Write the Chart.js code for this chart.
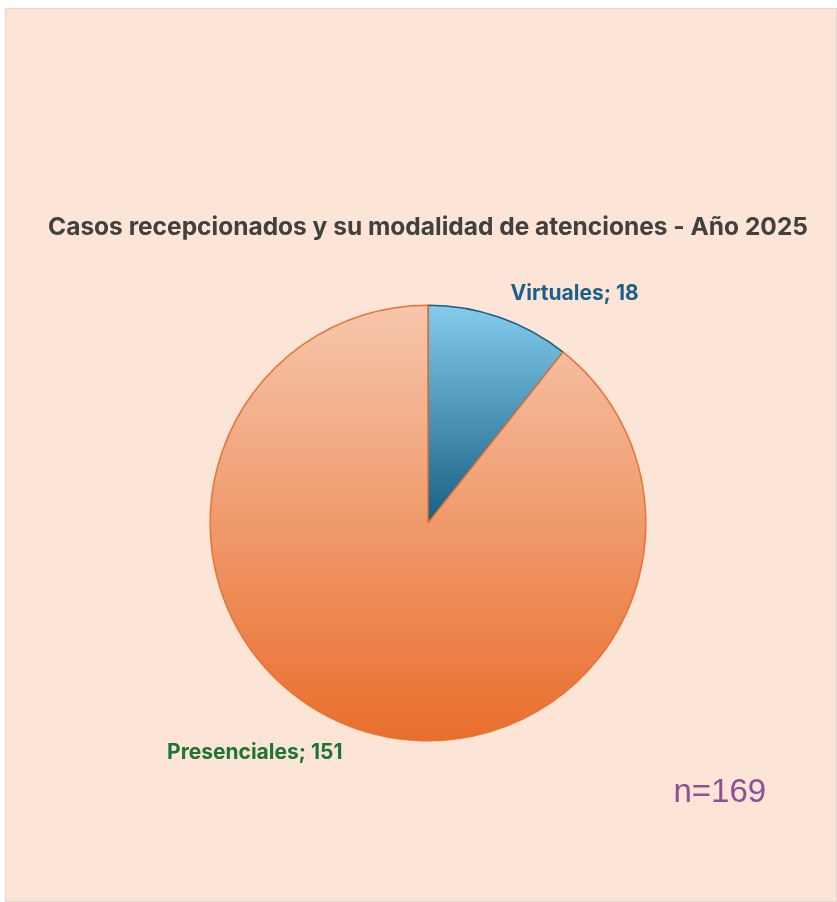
<!DOCTYPE html>
<html>
<head>
<meta charset="utf-8">
<script src="https://cdn.jsdelivr.net/npm/chart.js@4"></script>
<style>
  body { margin: 0; background: #fff; }
  #wrap {
    position: absolute; left: 5px; top: 8px;
    width: 830px; height: 892px;
    background: #FCE4D6;
    border: 1px solid #e6d6cc;
  }
</style>
</head>
<body>
<div id="wrap"><canvas id="pie-chart"></canvas></div>
<script>
// data for the pie
const categories = ["Virtuales", "Presenciales"];
const casos = [18, 151];
const total = 169;

const labelColors = ['#1B6089', '#1E7431'];
// gradient stops (top, bottom) per slice
const gradStops = [
  ['#84CBEC', '#176085'],
  ['#F6C6AC', '#E96E2C']
];
const borderColors = ['#1A5E7E', '#E97132'];

// vertical gradient spanning each slice's own height
function sliceGradient(ctx) {
  const chart = ctx.chart;
  const arc = chart.getDatasetMeta(0).data[ctx.dataIndex];
  if (!arc || !arc.outerRadius) return gradStops[ctx.dataIndex][1];
  const cy = arc.y, r = arc.outerRadius;
  let top = cy - r, bottom = cy + r;
  if (ctx.dataIndex === 0) bottom = cy;
  const g = chart.ctx.createLinearGradient(0, top, 0, bottom);
  g.addColorStop(0, gradStops[ctx.dataIndex][0]);
  g.addColorStop(1, gradStops[ctx.dataIndex][1]);
  return g;
}

// data labels outside the pie + n total
const labelPlugin = {
  id: 'sliceLabels',
  afterDraw(chart) {
    const c = chart.ctx;
    const meta = chart.getDatasetMeta(0);
    c.save();
    c.font = 'bold 21px Inter, "Open Sans", sans-serif';
    c.textBaseline = 'middle';
    meta.data.forEach((arc, i) => {
      const mid = (arc.startAngle + arc.endAngle) / 2;
      const ex = arc.x + Math.cos(mid) * arc.outerRadius;
      const ey = arc.y + Math.sin(mid) * arc.outerRadius;
      c.fillStyle = labelColors[i];
      const txt = categories[i] + '; ' + casos[i];
      if (ex > arc.x) {
        c.textAlign = 'left';
        c.fillText(txt, ex + 11, ey - 24);
      } else {
        c.textAlign = 'right';
        c.fillText(txt, ex - 14, ey + 24);
      }
    });
    const arc0 = meta.data[0];
    c.font = '33px Arial, "Liberation Sans", sans-serif';
    c.fillStyle = '#8E4F97';
    c.textAlign = 'center';
    c.fillText('n=' + total, arc0.x + arc0.outerRadius + 74, arc0.y + arc0.outerRadius + 52);
    c.restore();
  }
};

new Chart('pie-chart', {
  type: 'pie',
  data: {
    labels: categories,
    datasets: [{
      data: casos,
      backgroundColor: sliceGradient,
      borderColor: borderColors,
      borderWidth: 1.5
    }]
  },
  options: {
    responsive: true,
    maintainAspectRatio: false,
    animation: { duration: 0 },
    layout: { padding: { left: 14, right: 0, top: 0, bottom: 159.5 } },
    plugins: {
      legend: { display: false },
      tooltip: { enabled: false },
      title: {
        display: true,
        text: 'Casos recepcionados y su modalidad de atenciones - Año 2025',
        color: '#404040',
        font: { family: 'Inter, "Open Sans", sans-serif', size: 24.5, weight: 'bold', lineHeight: 1.2 },
        padding: { top: 204, bottom: 62 }
      }
    }
  },
  plugins: [labelPlugin]
});
</script>
</body>
</html>
